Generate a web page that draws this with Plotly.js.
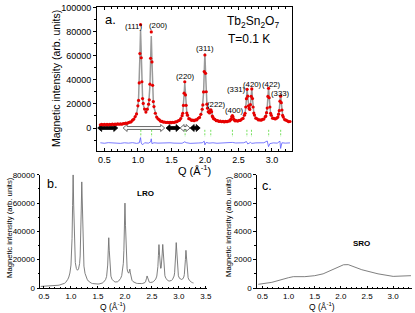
<!DOCTYPE html>
<html><head><meta charset="utf-8">
<script src="https://cdn.plot.ly/plotly-3.0.1.min.js"></script>
<style>html,body{margin:0;padding:0;background:#fff}#chart{width:415px;height:313px}</style>
</head><body><div id="chart"></div>
<script>
// Q grid (Å^-1) shared by panel a (observed, fit) and panel b (LRO)
const q = [0.44,0.46,0.48,0.50,0.52,0.54,0.56,0.58,0.60,0.62,0.64,0.66,0.68,0.70,0.72,0.74,0.76,0.78,0.80,0.82,0.84,0.86,0.88,0.90,0.92,0.94,0.96,0.98,
 1.00,1.01,1.02,1.03,1.04,1.05,1.06,1.07,1.08,
 1.10,1.12,1.14,
 1.16,1.17,1.18,1.19,1.20,1.21,1.22,1.23,1.24,
 1.26,1.28,1.30,1.32,1.34,1.36,1.38,1.40,1.42,1.44,1.46,1.48,1.50,1.52,1.54,1.56,1.58,1.60,1.62,1.64,
 1.66,1.67,1.68,1.69,1.70,1.71,1.72,1.73,1.74,
 1.76,1.78,1.80,1.82,1.84,1.86,1.88,1.90,1.92,1.94,
 1.96,1.97,1.98,1.99,2.00,2.01,2.02,2.03,2.04,2.05,2.06,2.07,2.08,2.09,2.10,2.11,2.12,2.13,
 2.15,2.17,2.19,2.21,2.23,2.25,2.27,2.29,2.31,2.33,2.35,
 2.37,2.38,2.39,2.40,2.41,2.42,2.43,2.44,2.45,
 2.47,2.49,2.51,2.53,2.55,2.57,
 2.59,2.60,2.61,2.62,2.63,2.64,2.65,2.66,2.67,2.68,2.69,2.70,2.71,2.72,2.73,2.74,
 2.76,2.78,2.80,2.82,2.84,2.86,2.88,2.90,
 2.91,2.92,2.93,2.94,2.95,2.96,2.97,2.98,2.99,
 3.01,3.03,3.05,3.07,
 3.09,3.10,3.11,3.12,3.13,3.14,3.15,3.16,3.17,
 3.19,3.21,3.23,3.25,3.27];

// panel a: observed magnetic intensity (red dots)
const obs = [2700,2940,2680,3130,2680,3020,2670,3030,2880,3240,2810,3170,3050,3420,3120,3430,3140,3580,3650,4040,3890,4520,4830,5130,6480,7430,9500,11700,
 18500,23000,37500,62000,86000,58500,38500,24500,20500,
 15800,13300,15700,
 19800,23500,36500,58000,80000,55000,35500,22000,17800,
 12300,9100,7600,6800,5700,5500,4900,5000,4600,4800,4400,4700,4400,4800,4600,5100,5200,6000,6400,7900,
 10300,12300,18800,29000,38500,27500,18900,12500,10700,
 7800,7400,6400,6500,6100,6700,6800,8100,8800,11400,
 15600,19200,30000,47000,60800,45500,30200,19800,16500,13500,13300,12500,14800,15200,13600,10000,9000,7700,
 7100,6100,6100,5500,5700,5200,5500,5100,5500,5300,5800,
 5900,6700,7200,9300,10400,9200,7200,6700,6000,
 6100,5800,6300,6400,7400,8000,
 10600,12300,17500,24400,32200,26500,18500,16300,15500,19400,26400,32500,24500,17500,12400,10800,
 8200,7600,6700,6800,6500,7200,7400,9300,
 9900,12800,16600,26300,33000,25200,17500,12200,10600,
 8200,8000,7500,8200,
 9100,11500,14400,22300,26500,21100,15000,10500,9100,
 7000,6500,6000,5200,5400];

// panel a: calculated fit (grey line)
const fit = [2200,2240,2280,2330,2380,2420,2470,2530,2580,2640,2710,2770,2850,2920,3020,3130,3240,3380,3550,3740,3990,4320,4730,5330,6180,7530,9240,12100,
 17710,23990,36470,59750,81520,60160,37300,25290,19530,
 15300,14090,15040,
 18860,24190,35330,56620,76500,56200,34510,22900,17070,
 11960,9360,7820,6620,5880,5390,5060,4840,4690,4590,4540,4530,4560,4630,4750,4950,5280,5810,6500,7680,
 10040,12710,18040,28030,37340,28090,18170,12890,10300,
 8120,7120,6610,6310,6290,6500,6980,7850,9010,11040,
 15090,19720,28940,46180,62300,46350,29280,20280,15930,13930,12820,12880,14280,15750,13120,10340,8740,7910,
 6890,6310,5950,5680,5510,5380,5320,5300,5340,5420,5590,
 5980,6430,7330,9010,10590,9030,7370,6480,6180,
 5930,5950,6140,6550,7160,8220,
 10320,12590,16960,24930,32500,25830,18890,15800,15810,18900,25860,32550,24980,17030,12720,10450,
 8410,7420,6910,6640,6690,7010,7630,8990,
 10110,12410,16990,25640,33710,25660,17060,12500,10260,
 8440,7790,7660,8020,
 9360,11130,14780,21730,28230,21620,14560,10780,8870,
 7180,6330,5820,5420,5170];

// panel b: long-range-order contribution
const lro = [1130,1150,1180,1210,1240,1270,1300,1340,1380,1420,1470,1520,1580,1640,1720,1810,1910,2030,2180,2360,2590,2900,3300,3880,4720,6050,7740,10590,
 16180,22460,34930,58210,79980,58610,35750,23740,17970,
 13730,12520,13460,
 17270,22600,33740,55020,74900,54600,32910,21300,15450,
 10330,7720,6170,4960,4210,3710,3370,3140,2980,2870,2810,2790,2810,2870,2980,3170,3490,4010,4690,5860,
 8210,10870,16200,26180,35490,26220,16290,10990,8380,
 6170,5130,4590,4260,4200,4380,4820,5660,6790,8780,
 12800,17410,26610,43840,59940,43980,26900,17890,13530,11530,10410,10460,11850,13310,10670,7900,6310,5490,
 4500,3940,3610,3360,3210,3110,3070,3070,3130,3240,3430,
 3840,4310,5220,6910,8500,6950,5300,4420,4130,
 3900,3940,4150,4580,5210,6290,
 8410,10690,15070,23050,30630,23970,17040,13960,13980,17080,24050,30750,23190,15240,10940,8670,
 6640,5670,5170,4910,4970,5310,5940,7310,
 8440,10740,15330,23980,32060,24020,15420,10870,8630,
 6820,6170,6040,6390,
 7730,9500,13150,20100,26590,19980,12920,9140,7230,
 5540,4680,4170,3770,3520];

// panel a: difference curve (blue)
const qDiff = [0.44,0.50,0.56,0.62,0.68,0.74,0.80,0.86,0.92,0.98,1.02,1.04,1.05,1.07,1.10,1.16,1.19,1.20,1.21,1.24,1.30,1.36,1.42,1.48,1.54,1.60,1.66,1.70,1.72,1.78,1.84,1.90,1.96,1.99,2.00,2.02,2.06,2.12,2.18,2.24,2.30,2.36,2.41,2.46,2.52,2.58,2.62,2.64,2.68,2.70,2.76,2.82,2.88,2.93,2.95,2.97,3.02,3.08,3.12,3.13,3.15,3.20,3.27];
const diff = [-12300,-12700,-12200,-12600,-12400,-12800,-12300,-12600,-12200,-12800,-12400,-8000,-12500,-14000,-12300,-12600,-11500,-9000,-13000,-12300,-12600,-12400,-12700,-12300,-12600,-12400,-12700,-11500,-12200,-12800,-12400,-12500,-12300,-11000,-14000,-12000,-12600,-12300,-12700,-12400,-12600,-12300,-12000,-12500,-12600,-12300,-11300,-13300,-12000,-12800,-12400,-12600,-12300,-10800,-15500,-13000,-12400,-12600,-11000,-17000,-12300,-12600,-12400];

// Bragg peak positions and Miller indices
const braggQ = [1.044,1.205,1.705,1.999,2.088,2.411,2.627,2.695,2.952,3.131];
const hklLabels = ['(111)','(200)','(220)','(311)','(222)','(400)','(331)','(420)','(422)','(333)'];

// panel c: short-range-order contribution
const qSro = [0.42,0.68,1.00,1.09,1.31,1.50,1.66,1.89,2.05,2.14,2.40,2.71,3.00,3.34];
const sro = [260,400,730,800,800,870,1000,1400,1640,1650,1290,1000,820,870];

// double arrows along the zero line of panel a
const arrowFrom = [0.40,0.78,1.42,1.63,1.78];
const arrowTo   = [0.70,1.40,1.63,1.78,1.93];
const arrowFilled = [true,false,true,false,true];

// ---------- layout helpers ----------
const FONT = 'Liberation Sans, Arial, sans-serif';
const W = 415, H = 313;
const px = x => x / W, py = y => 1 - y / H;

// label positions for hkl (data coords)
const hklPos = [[0.937,84200],[1.31,85400],[1.705,43300],[2.006,66400],[2.17,19600],[2.446,14700],[2.47,31900],[2.71,36200],[2.99,36200],[3.13,28600]];

const gx = [], gy = [];
braggQ.forEach(b => { gx.push(b, b, null); gy.push(-1500, -7500, null); });

const traces = [
  {x: gx, y: gy, xaxis: 'x', yaxis: 'y', mode: 'lines', line: {color: '#77e060', width: 1, dash: '2px,1.5px'}, hoverinfo: 'skip'},
  {x: qDiff, y: diff, xaxis: 'x', yaxis: 'y', mode: 'lines', line: {color: '#5a5aff', width: 0.8}},
  {x: q, y: fit, xaxis: 'x', yaxis: 'y', mode: 'lines', line: {color: '#9a9a9a', width: 1.5}},
  {x: q, y: obs, xaxis: 'x', yaxis: 'y', mode: 'markers', marker: {color: '#e60000', size: 3.2}},
  {x: q, y: lro, xaxis: 'x2', yaxis: 'y2', mode: 'lines', line: {color: '#707070', width: 0.9}},
  {x: qSro, y: sro, xaxis: 'x3', yaxis: 'y3', mode: 'lines', line: {color: '#707070', width: 0.9}}
];

const shapes = [];
const hx = 0.06, hh = 2900, sh = 1200;
arrowFrom.forEach((a, i) => {
  const b = arrowTo[i];
  const p = `M ${a},0 L ${a+hx},${hh} L ${a+hx},${sh} L ${b-hx},${sh} L ${b-hx},${hh} L ${b},0 L ${b-hx},${-hh} L ${b-hx},${-sh} L ${a+hx},${-sh} L ${a+hx},${-hh} Z`;
  shapes.push({type: 'path', xref: 'x', yref: 'y', path: p, layer: 'below',
    fillcolor: arrowFilled[i] ? '#000' : '#fff', line: {color: arrowFilled[i] ? '#000' : '#444', width: 0.8}});
});

const annotations = hklLabels.map((t, i) => ({text: t, x: hklPos[i][0], y: hklPos[i][1], xref: 'x', yref: 'y',
  showarrow: false, font: {family: FONT, size: 7.8, color: '#000'}}));

function ann(text, x, y, size, extra) {
  return Object.assign({text, x: px(x), y: py(y), xref: 'paper', yref: 'paper', showarrow: false,
    xanchor: 'center', yanchor: 'middle', font: {family: FONT, size, color: '#000'}}, extra || {});
}
annotations.push(
  ann('a.', 110, 20, 13),
  ann('Tb<sub>2</sub>Sn<sub>2</sub>O<sub>7</sub>', 252.5, 22, 12),
  ann('T=0.1 K', 249, 39, 12),
  ann('Magnetic intensity (arb. units)', 56, 79, 10.5, {textangle: -90}),
  ann('Q (Å<sup>-1</sup>)', 194, 170, 11),
  ann('b.', 51.7, 183.5, 12.5),
  ann('<b>LRO</b>', 145.8, 193, 8),
  ann('Magnetic intensity (arb. units)', 9, 228, 7.7, {textangle: -90}),
  ann('Q (Å<sup>-1</sup>)', 113, 306, 8.5),
  ann('c.', 267, 186, 12.5),
  ann('<b>SRO</b>', 361.5, 243, 8),
  ann('Magnetic intensity (arb. units)', 228, 227, 7.7, {textangle: -90}),
  ann('Q (Å<sup>-1</sup>)', 322, 306, 8.5)
);

if (obs.length !== q.length || fit.length !== q.length || lro.length !== q.length || diff.length !== qDiff.length) {
  annotations.push(ann('LEN ' + q.length + ' ' + obs.length + ' ' + fit.length + ' ' + lro.length + ' ' + qDiff.length + ' ' + diff.length, 200, 250, 14, {font: {size: 14, color: 'magenta'}}));
}

const axBase = {showgrid: false, zeroline: false, showline: true, linecolor: '#000', linewidth: 1,
  ticks: 'outside', tickcolor: '#000', tickwidth: 1, ticklen: 3, tickfont: {family: FONT, size: 9, color: '#000'}};
const small = {family: FONT, size: 8, color: '#000'};

const dA = [px(97), px(292)], dAy = [py(150.7), py(7.3)];
const dB = [px(40), px(207)], dBy = [py(288), py(174.7)];
const dC = [px(256.7), px(412)];
const xr = [0.39, 3.30], yr = [-18900, 100500];

const layout = {
  width: W, height: H, margin: {l: 0, r: 0, t: 0, b: 0}, showlegend: false,
  paper_bgcolor: '#fff', plot_bgcolor: 'rgba(0,0,0,0)', font: {family: FONT, color: '#000'},
  xaxis: Object.assign({}, axBase, {domain: dA, range: xr, anchor: 'y', tick0: 0.5, dtick: 0.5, tickformat: '.1f',
    ticks: 'inside', mirror: 'allticks',
    minor: {dtick: 0.1, tick0: 0, ticks: 'inside', ticklen: 2, tickcolor: '#000'}}),
  yaxis: Object.assign({}, axBase, {domain: dAy, range: yr, anchor: 'x', tick0: 0, dtick: 20000, tickformat: 'd', mirror: true,
    minor: {dtick: 10000, tick0: 0, ticks: 'outside', ticklen: 2, tickcolor: '#000'}}),
  yaxis4: {overlaying: 'y', side: 'right', anchor: 'x', range: yr, showgrid: false, zeroline: false, showline: false,
    tick0: 0, dtick: 20000, ticks: 'inside', ticklen: 3, tickcolor: '#000', showticklabels: false,
    minor: {dtick: 10000, tick0: 0, ticks: 'inside', ticklen: 2, tickcolor: '#000'}},
  xaxis2: Object.assign({}, axBase, {domain: dB, range: [0.426, 3.52], anchor: 'y2', tick0: 0.5, dtick: 0.5, tickformat: '.1f',
    ticks: 'inside', ticklen: 2.5, tickfont: small,
    minor: {dtick: 0.1, tick0: 0, ticks: 'inside', ticklen: 1.5, tickcolor: '#000'}}),
  yaxis2: Object.assign({}, axBase, {domain: dBy, range: [0, 80000], anchor: 'x2', tick0: 0, dtick: 20000, tickformat: 'd',
    ticklen: 2.5, tickfont: small,
    minor: {dtick: 10000, tick0: 0, ticks: 'outside', ticklen: 1.5, tickcolor: '#000'}}),
  xaxis3: Object.assign({}, axBase, {domain: dC, range: [0.39, 3.36], anchor: 'y3', tick0: 0.5, dtick: 0.5, tickformat: '.1f',
    ticks: 'inside', ticklen: 2.5, tickfont: small,
    minor: {dtick: 0.1, tick0: 0, ticks: 'inside', ticklen: 1.5, tickcolor: '#000'}}),
  yaxis3: Object.assign({}, axBase, {domain: dBy, range: [0, 8000], anchor: 'x3', tick0: 0, dtick: 2000, tickformat: 'd',
    ticklen: 2.5, tickfont: small,
    minor: {dtick: 1000, tick0: 0, ticks: 'outside', ticklen: 1.5, tickcolor: '#000'}}),
  shapes, annotations
};

Plotly.newPlot('chart', traces, layout, {staticPlot: true, displayModeBar: false});
</script></body></html>
